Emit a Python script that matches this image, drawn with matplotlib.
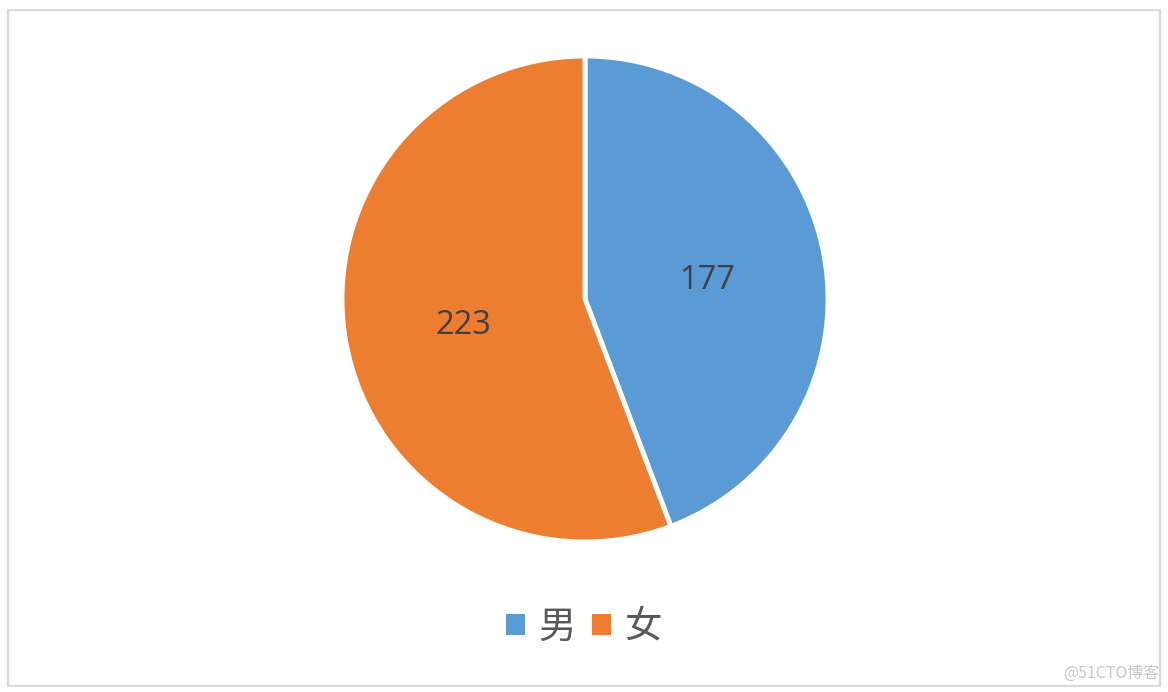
import matplotlib
matplotlib.use("Agg")
import matplotlib.pyplot as plt
from matplotlib.patches import Rectangle, Patch

categories = ["男", "女"]
values = [177, 223]
colors = ["#5B9BD5", "#ED7D31"]

plt.rcParams['font.family'] = ['Noto Sans CJK SC', 'DejaVu Sans']

W, H = 1168, 692
fig = plt.figure(figsize=(W / 100, H / 100), dpi=100)
fig.patch.set_facecolor("white")

# outer border
fig.patches.append(Rectangle((8 / W, 6 / H), (1160 - 8) / W, (684 - 8) / H,
                             transform=fig.transFigure, fill=False,
                             edgecolor="#D9D9D9", linewidth=1.6))

cx, cy, r = 585, 299, 243
ax = fig.add_axes([(cx - r) / W, (H - cy - r) / H, 2 * r / W, 2 * r / H])
wedges, texts = ax.pie(values, colors=colors, startangle=90, counterclock=False,
                       labels=[str(v) for v in values], labeldistance=0.51,
                       wedgeprops=dict(edgecolor="white", linewidth=3.5),
                       textprops=dict(fontsize=23.5, color="#404040",
                                      family=['Open Sans', 'DejaVu Sans']))
for t in texts:
    t.set_horizontalalignment("center")
    t.set_verticalalignment("center_baseline")
ax.set_aspect("equal")
ax.set_xlim(-1.0, 1.0)
ax.set_ylim(-1.0, 1.0)

handles = [Patch(facecolor=c, edgecolor="none") for c in colors]
leg = fig.legend(handles, categories, loc="center", bbox_to_anchor=(0.5, (H - 627) / H),
                 ncol=2, frameon=False, fontsize=27, handlelength=0.5, handleheight=0.5,
                 handletextpad=0.36, columnspacing=0.45, labelcolor="#595959")

fig.text(1159 / W, (H - 673) / H, "@51CTO博客", ha="right", va="center",
         fontsize=11.5, color="#C8C8C8")

fig.savefig("out.png", dpi=100)
